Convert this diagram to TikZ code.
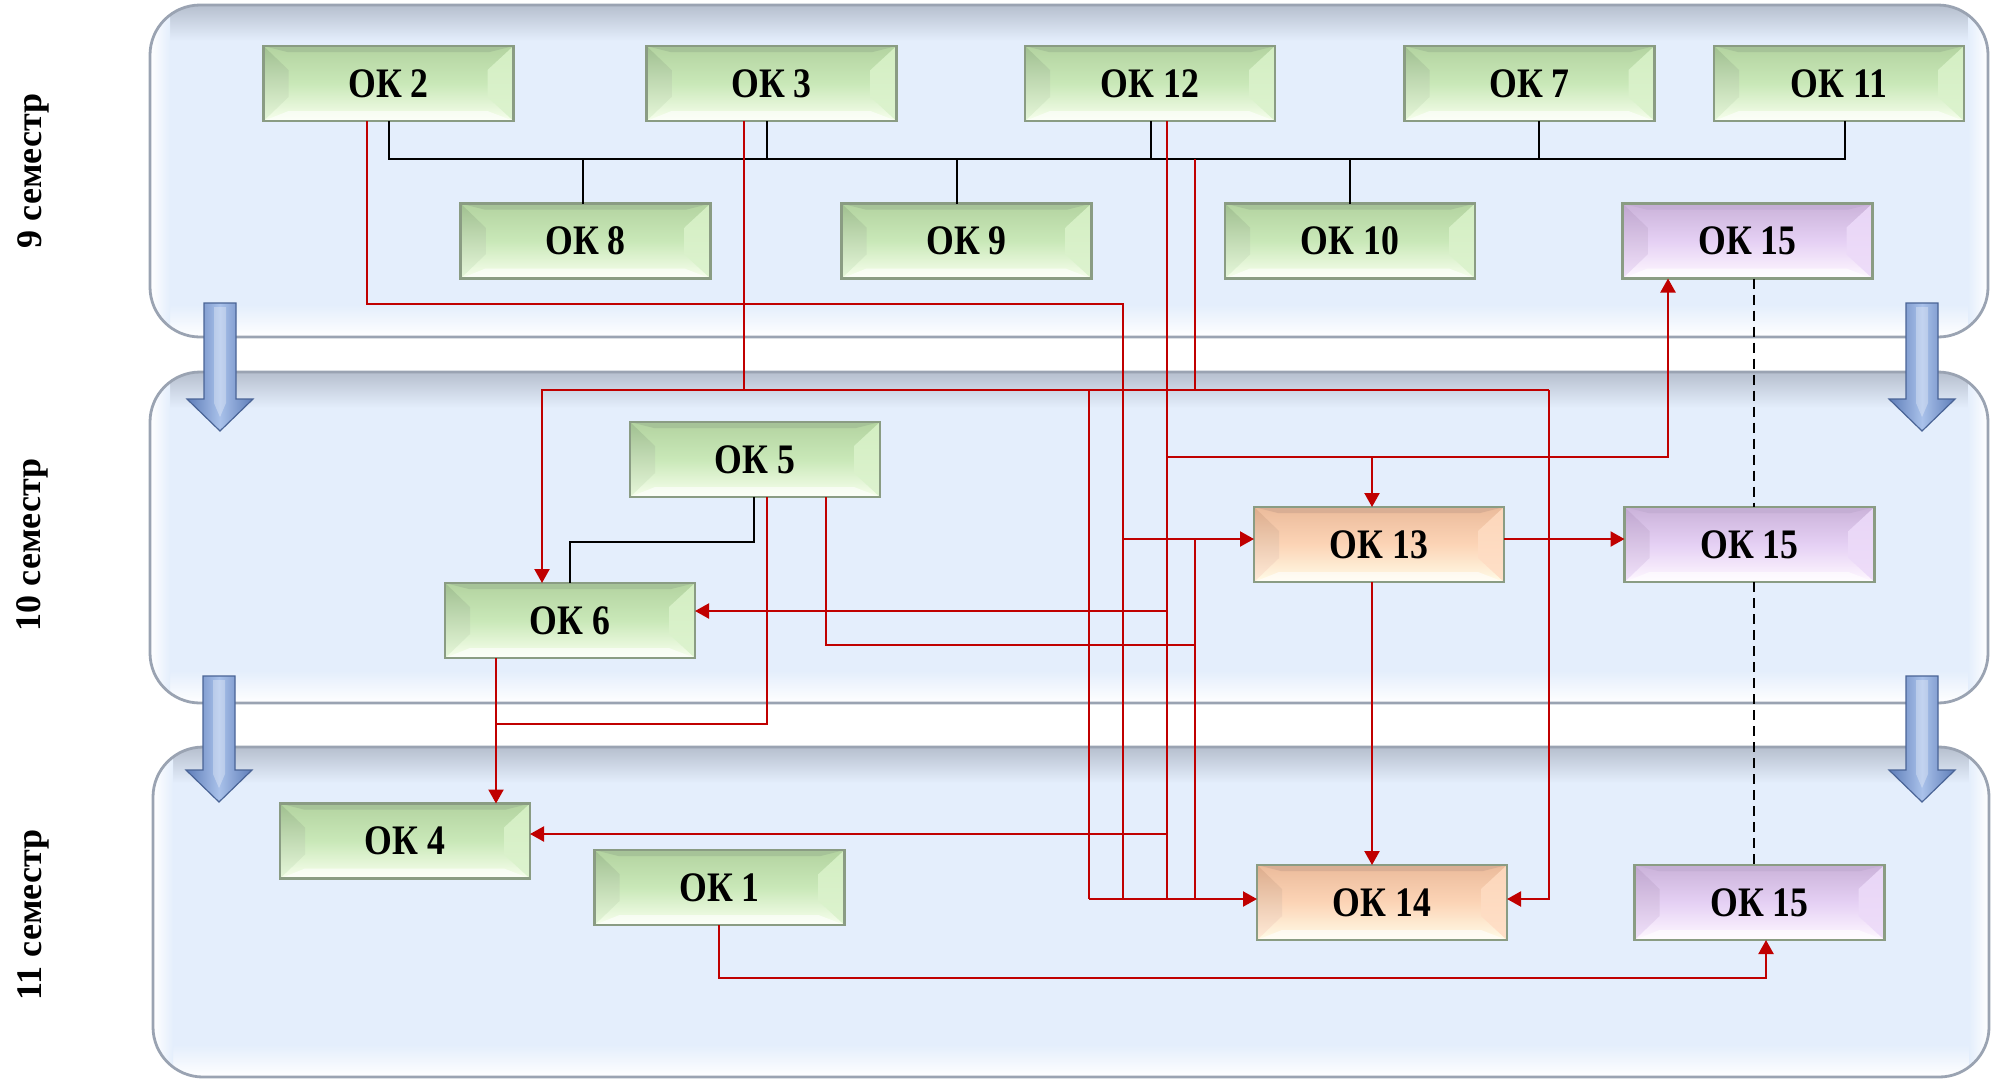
\documentclass[tikz,border=0pt]{standalone}
\usepackage{fontspec}
\setmainfont{Liberation Serif}
\usetikzlibrary{arrows.meta,calc}
\definecolor{redc}{HTML}{C00000}
\definecolor{panfill}{HTML}{E4EEFC}
\definecolor{pantop}{HTML}{B6BFCE}
\definecolor{panedge}{HTML}{9AA3B2}
\definecolor{arrd}{HTML}{5E7DB8}
\definecolor{arrl}{HTML}{A9C1EA}
\definecolor{arre}{HTML}{4A6496}
\definecolor{boxedge}{HTML}{8A9C83}
% green palette
\definecolor{gtop}{HTML}{B3D3A0}\definecolor{gmid}{HTML}{C9E8B8}\definecolor{gbot}{HTML}{F8FFEE}
\definecolor{gband}{HTML}{A6C398}\definecolor{gleft}{HTML}{A0C090}\definecolor{gleftb}{HTML}{E6F7DA}
\definecolor{gright}{HTML}{D3EEC2}\definecolor{grightb}{HTML}{DDF3CF}
% orange palette
\definecolor{otop}{HTML}{EBBB9B}\definecolor{omid}{HTML}{FCD4B6}\definecolor{obot}{HTML}{FFFCE8}
\definecolor{oband}{HTML}{D9AE94}\definecolor{oleft}{HTML}{DDAC8C}\definecolor{oleftb}{HTML}{FFEBD8}
\definecolor{oright}{HTML}{FCD6BA}\definecolor{orightb}{HTML}{FFE0C8}
% purple palette
\definecolor{ptop}{HTML}{CAB2D9}\definecolor{pmid}{HTML}{E5D0F4}\definecolor{pbot}{HTML}{FFF9FF}
\definecolor{pband}{HTML}{C4AED4}\definecolor{pleft}{HTML}{C0A6D0}\definecolor{pleftb}{HTML}{F1E2FA}
\definecolor{pright}{HTML}{E8D5F6}\definecolor{prightb}{HTML}{EEDDF9}

\newcommand\okbevel[1]{%
 \shade[top color=#1top, bottom color=#1bot, middle color=#1mid]
   (path picture bounding box.north west) rectangle (path picture bounding box.south east);
 \fill[#1band] (path picture bounding box.north west) -- (path picture bounding box.north east)
   -- ++(-12pt,-3pt) -- ($(path picture bounding box.north west)+(12pt,-3pt)$) -- cycle;
 \shade[top color=#1left, bottom color=#1leftb] (path picture bounding box.north west) -- ++(12.5pt,-12pt)
   -- ($(path picture bounding box.south west)+(12.5pt,12pt)$) -- (path picture bounding box.south west) -- cycle;
 \shade[top color=#1right, bottom color=#1rightb] (path picture bounding box.north east) -- ++(-13pt,-12pt)
   -- ($(path picture bounding box.south east)+(-13pt,12pt)$) -- (path picture bounding box.south east) -- cycle;
 \fill[white, opacity=0.6] (path picture bounding box.south west) -- ++(12.5pt,5pt)
   -- ($(path picture bounding box.south east)+(-13pt,5pt)$) -- (path picture bounding box.south east) -- cycle;
}
\newcommand\oktext[1]{\scalebox{0.85}[1]{#1}}
\newcommand\semPanel[4]{%
 \fill[panfill, rounded corners=25pt] (#1,#2) rectangle (#3,#4);
 \begin{scope}
  \clip[rounded corners=25pt] (#1,#2) rectangle (#3,#4);
  \shade[top color=pantop, bottom color=panfill] (#1,#2) rectangle (#3,#2+36);
  \shade[top color=panfill, bottom color=white] (#1,#4-32) rectangle (#3,#4);
  \shade[left color=white, right color=panfill] (#1,#2) rectangle (#1+20,#4);
  \shade[left color=panfill, right color=white] (#3-20,#2) rectangle (#3,#4);
 \end{scope}
 \draw[panedge, line width=1.4pt, rounded corners=25pt] (#1,#2) rectangle (#3,#4);
}
\newcommand\semArrow[4]{%
 \shade[left color=arrd, right color=arrd, middle color=arrl, draw=arre, line width=0.6pt]
  (#1-16,#2) -- (#1+16,#2) -- (#1+16,#3) -- (#1+33,#3) -- (#1,#4) -- (#1-33,#3) -- (#1-16,#3) -- cycle;
 \fill[white, opacity=0.3] (#1-6,#2+4) -- (#1+6,#2+4) -- (#1+6,#3+4) -- (#1,#3+18) -- (#1-6,#3+4) -- cycle;
}

\begin{document}
\begin{tikzpicture}[x=0.5pt, y=-0.5pt,
  okbase/.style={rectangle, minimum width=125pt, minimum height=37.5pt, inner sep=0pt, outer sep=0pt,
     draw=boxedge, line width=1.3pt, font=\fontsize{21}{25}\selectfont\bfseries},
  gbox/.style={okbase, path picture={\okbevel{g}}},
  obox/.style={okbase, path picture={\okbevel{o}}},
  pbox/.style={okbase, path picture={\okbevel{p}}},
  semlabel/.style={rotate=90, font=\fontsize{18}{22}\selectfont\bfseries, inner sep=0pt},
  redl/.style={draw=redc, line width=1.1pt},
  redarr/.style={redl, -{Triangle[length=7pt,width=7.5pt]}},
  blk/.style={draw=black, line width=1pt},
  dash15/.style={draw=black, line width=1pt, dash pattern=on 5pt off 3pt}
]
\useasboundingbox (0,0) rectangle (1995,1078);

% panels
\semPanel{150}{5}{1988}{337}
\semPanel{150}{372}{1988}{703}
\semPanel{153}{747}{1989}{1077}

% semester labels
\node[semlabel] (s9) at (33,171) {9 семестр};
\node[semlabel] (s10) at (32,545) {10 семестр};
\node[semlabel] (s11) at (33,915) {11 семестр};

% boxes
\node[gbox] (ok2) at (388.5,83.5) {\oktext{ОК 2}};
\node[gbox] (ok3) at (771.5,83.5) {\oktext{ОК 3}};
\node[gbox] (ok12) at (1150,83.5) {\oktext{ОК 12}};
\node[gbox] (ok7) at (1529.5,83.5) {\oktext{ОК 7}};
\node[gbox] (ok11) at (1839,83.5) {\oktext{ОК 11}};
\node[gbox] (ok8) at (585.5,241) {\oktext{ОК 8}};
\node[gbox] (ok9) at (966.5,241) {\oktext{ОК 9}};
\node[gbox] (ok10) at (1350,241) {\oktext{ОК 10}};
\node[pbox] (ok15a) at (1747.5,241) {\oktext{ОК 15}};
\node[gbox] (ok5) at (755,459.5) {\oktext{ОК 5}};
\node[gbox] (ok6) at (570,620.5) {\oktext{ОК 6}};
\node[obox] (ok13) at (1379,544.5) {\oktext{ОК 13}};
\node[pbox] (ok15b) at (1749.5,544.5) {\oktext{ОК 15}};
\node[gbox] (ok4) at (405,841) {\oktext{ОК 4}};
\node[gbox] (ok1) at (719.5,887.5) {\oktext{ОК 1}};
\node[obox] (ok14) at (1382,902.5) {\oktext{ОК 14}};
\node[pbox] (ok15c) at (1759.5,902.5) {\oktext{ОК 15}};

% blue semester arrows
\semArrow{220}{303}{399}{431}
\semArrow{219}{676}{770}{802}
\semArrow{1922}{303}{399}{431}
\semArrow{1922}{676}{770}{802}

% junction coordinates
\coordinate (bus1) at (389,159);
\coordinate (bus2) at (1845,159);
\coordinate (s3) at (767,159);
\coordinate (s12) at (1151,159);
\coordinate (s7) at (1539,159);
\coordinate (s8) at (583,159);
\coordinate (s9b) at (957,159);
\coordinate (s10b) at (1350,159);
\coordinate (b5) at (754,542);
\coordinate (b6) at (570,542);
\coordinate (dl) at (1754,0);

\coordinate (j1) at (367,304);
\coordinate (j2) at (1123,304);
\coordinate (k744) at (744,390);
\coordinate (k542) at (542,390);
\coordinate (k1549) at (1549,390);
\coordinate (k1089) at (1089,390);
\coordinate (kb1) at (1195,159);
\coordinate (kb2) at (1195,390);
\coordinate (kc1) at (1195,539);
\coordinate (k1167) at (1167,457);
\coordinate (k1372) at (1372,457);
\coordinate (k1668) at (1668,457);
\coordinate (k13) at (1123,539);
\coordinate (k6) at (1167,611);
\coordinate (k4) at (1167,834);
\coordinate (k14) at (1089,899);
\coordinate (k14r) at (1549,899);
\coordinate (k5a) at (767,724);
\coordinate (k496) at (496,724);
\coordinate (k5b) at (826,645);
\coordinate (k5c) at (1195,645);
\coordinate (k1) at (719,978);
\coordinate (k1e) at (1766,978);

% black links
\draw[blk] (ok2.south -| bus1) -- (bus1) -- (bus2) -- (ok11.south -| bus2);
\draw[blk] (ok3.south -| s3) -- (s3);
\draw[blk] (ok12.south -| s12) -- (s12);
\draw[blk] (ok7.south -| s7) -- (s7);
\draw[blk] (s8) -- (ok8.north -| s8);
\draw[blk] (s9b) -- (ok9.north -| s9b);
\draw[blk] (s10b) -- (ok10.north -| s10b);
\draw[blk] (ok5.south -| b5) -- (b5) -- (b6) -- (ok6.north);
\draw[dash15] (ok15a.south -| dl) -- (ok15b.north -| dl);
\draw[dash15] (ok15b.south -| dl) -- (ok15c.north -| dl);

% red links
\draw[redl] (ok2.south -| j1) -- (j1) -- (j2) -- (j2 |- k14);
\draw[redl] (ok3.south -| k744) -- (k744);
\draw[redarr] (k1549) -- (k542) -- (ok6.north -| k542);
\draw[redarr] (k1549) -- (k14r) -- (k14r -| ok14.east);
\draw[redl] (k1089) -- (k14);
\draw[redl] (kb1) -- (kb2);
\draw[redl] (kc1) -- (kc1 |- k14);
\draw[redl] (ok12.south -| k1167) -- (k1167 |- k14);
\draw[redarr] (k1372) -- (ok13.north -| k1372);
\draw[redarr] (k1167) -- (k1668) -- (ok15a.south -| k1668);
\draw[redarr] (k13) -- (k13 -| ok13.west);
\draw[redarr] (ok13.east |- k13) -- (ok15b.west |- k13);
\draw[redarr] (ok13.south -| k1372) -- (ok14.north -| k1372);
\draw[redarr] (k6) -- (k6 -| ok6.east);
\draw[redarr] (k4) -- (k4 -| ok4.east);
\draw[redarr] (k14) -- (k14 -| ok14.west);
\draw[redl] (ok5.south -| k5a) -- (k5a) -- (k496);
\draw[redarr] (ok6.south -| k496) -- (ok4.north -| k496);
\draw[redl] (ok5.south -| k5b) -- (k5b) -- (k5c);
\draw[redarr] (ok1.south -| k1) -- (k1) -- (k1e) -- (ok15c.south -| k1e);
\end{tikzpicture}
\end{document}
